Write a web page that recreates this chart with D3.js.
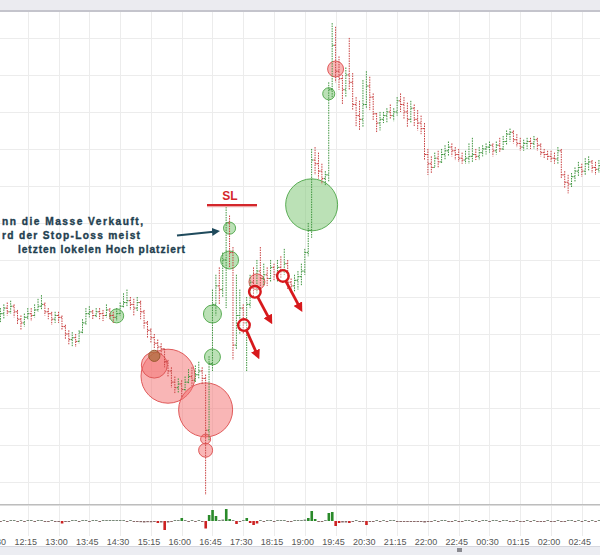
<!DOCTYPE html>
<html><head><meta charset="utf-8">
<script src="https://cdn.jsdelivr.net/npm/d3@7"></script>
<style>body{margin:0;background:#fff;} svg{display:block;}</style>
</head><body>
<svg id="c" width="600" height="555"></svg>
<script>
// ---- data (5-minute bars, arbitrary price units) ----
const closes = [54,55.5,57,56,57.5,56,54,53,54.5,55.5,55,56.5,57.5,58,56,55.5,54,55,54.5,
52,50,48.5,49,48,50.5,53,
55.5,56,55,56,55.5,55,56.5,55,54.5,55.5,57.5,58.5,
59,58,57,58.5,56,53,51,49,47.5,46.5,46,
42.5,40,37,35.5,36.5,35,37,38.5,37.5,39,40,38,
24,42,58,63,62,70,80,72,
47,55,57,53,58,64,63,67,65,66,65,68,66,68,67,69,64,63,64.5,65.5,
67,72,78,97,96,94,92,93,
116,128,121,119,116,120,118,112,109,108,112,117,114,109.5,107,108,109,110,109,110,113,112,
110,108,111,108,107,105.5,98.5,96,95,97.5,
96.5,98.5,99.5,100.5,99.5,98.5,97.5,97,97.5,98,98.5,98,99,100,100.5,101,99.5,101,100,102,
104,104.5,102.5,101.5,100.5,101.5,102,101.5,102.5,101,99,98.5,98,97.5,97.3,99.5,93,91,90.5,92.5,94,95,94,96,96.5,95,94.5,95.5];
const highs = [56,57,58,58.5,59,58,56.5,55,55.5,57,57,58,59.5,60.5,58.5,57,56,56,56,
55,52.5,51,50.5,50,51,54,
57,57.5,56.5,57,57,56.5,58,57,56,57,58.5,61,
62,60,59.5,60,59,56.5,53.5,51.5,50,48.5,47.5,
46,43,41,38.5,38,37.5,38.5,40.5,41,41.5,42.5,41,
39,44,62,66,68,72,85,82,
73.5,66,62,58,60,66,68,70,73.5,69,68,70,69,70,71,73,70,65,66,67,
69,73,80,100,100.5,99,96,94,
118,134,133,125,120,122,130,120.5,114,113,118.6,121,119.5,115,109.7,110,110,111,112,111,114,115,
114,112.5,113,112,110.5,109,107,100,98,99,
99.5,100,101,102,101.5,100.5,100,99,99.5,101.5,103,100,100.5,101,101.5,102,101.5,102,103,103.5,
105,105.5,105,104,103,102.5,103,103,103.5,103,101.5,100,99.5,99.5,99,100.5,100,94,93,93.5,95,96.5,96,97.5,98,97,96.5,97];
const lows = [47,53,54,55,55.5,54.5,52.5,51,52,54,53.5,54.5,56,56.5,55,54,52.5,53,53,
51,48.5,47,46.5,46.5,47.5,50,
52.5,54.5,54,54.5,54,53.5,54.5,54,53,53.5,55,57,
57.5,56.5,55,56,54,51.5,49,47.5,46,45,44.5,
41,38.5,35.5,34,34,33,34.5,36.5,36,37,38,36.5,
6.5,21,40,55,58,60,57,68,
43,46,50,50,40,57,60,61,62,63,63,64,64.5,64,65,66,62,61,61.5,62,
63,66,71,76,93,92,90.5,90,
91,114,118,116,112,114,116,110.5,106,105,106,111,110.5,107.8,104.3,105,107,107,108,107.5,109,110,
108,106,107,106,105,104,97,93,93.5,95,
95,96,97,98,98,97,96.5,96,96,96,96.5,97,97,98,98.5,99,98,98.5,99,99.5,
101,102,101.5,100.5,99.5,99.5,100,100,100,99.5,98,97.5,97,96.5,96,96,92,89.5,88,89.5,91,92.5,92.5,93,94,93.5,93,93.5];
const firstOpen = 54;
const deltaVolume = [-200,-80,40,-50,30,60,-40,50,-30,40,
30,-40,60,50,-60,-30,40,-50,-40,-250,
-80,-60,40,60,-50,70,40,-30,50,30,
-40,50,60,40,80,90,60,70,-60,50,
-50,-80,-120,-150,-120,-130,-100,-200,-150,-900,
-150,-100,80,60,300,100,-80,60,-60,50,
-100,-750,600,1100,500,100,150,1200,200,100,
-300,-100,80,300,-200,-400,-250,60,-50,40,
50,-40,30,60,40,-60,-40,50,100,100,
150,300,1000,200,-100,-100,60,800,900,-500,
-200,-150,-150,-200,-100,100,-80,-60,-400,-100,
-60,50,-50,40,-40,60,50,-30,-40,-100,
-60,-50,-60,-40,-80,-150,-80,-40,30,-30,
20,30,-20,-30,20,-20,-30,20,30,-20,
20,-20,30,20,-20,20,30,-20,40,30,
-20,-30,20,-40,-30,20,-30,20,-40,-30,
-40,20,-30,-20,30,-60,-50,30,20,-20,
30,-20,20,-30,20,-20,30];
const tickLabels = ["11:30","12:15","13:00","13:45","14:30","15:15","16:00","16:45","17:30","18:15",
"19:00","19:45","20:30","21:15","22:00","22:45","00:30","01:15","02:00","02:45"];
const barsPerTick = 9;
// volume-profile bubbles
const bubbleIndex = [35,46,63,63,68,68,92,97,46,50,61,61,61,76,99];
const bubblePrice = [54.9,44.1,43.8,55.4,78.6,70,84.9,114.9,41.6,38.6,29.5,21.6,18.6,64.1,121.6];
const bubbleSize  = [47,30,61,78,35,78,649,35,162,700,700,24,47,61,61];
const bubbleSide  = ["buy","mixed","buy","buy","buy","buy","buy","buy","sell","sell","sell","sell","sell","sell","sell"];
// stop-loss marks and arrows
const markIndex = [72.2,75.4,83.6];
const markPrice = [52.4,61.4,65.7];
const arrowIndex = [77,80.7,89.5];
const arrowPrice = [43,52.4,55.7];
const noteLines = [["We","nn die Masse Verkauft,"],["wi","rd der Stop-Loss meist"],["","letzten lokelen Hoch platziert"]];
const slLabel = "SL";

// ---- layout ----
const W = 600, H = 555;
const svg = d3.select("#c");
const x = d3.scaleLinear().domain([0, 176]).range([-3, -3 + 176 * 3.42]);
const y = d3.scaleLinear().domain([3.8, 137]).range([505, 12]);
const yv = d3.scaleLinear().domain([-1500, 1500]).range([536, 506]);
const rScale = d3.scaleSqrt().domain([0, 700]).range([0, 27]);
const opens = closes.map((c, i) => i ? closes[i - 1] : firstOpen);
const tickIdx = tickLabels.map((d, i) => i * barsPerTick);

// top bar
svg.append("rect").attr("x",0).attr("y",0).attr("width",W).attr("height",10).attr("fill","#ebebf0");
svg.append("rect").attr("x",0).attr("y",10).attr("width",W).attr("height",2).attr("fill","#c4c4cc");

// grid
const grid = svg.append("g");
grid.selectAll("line.h").data(d3.range(10, 131, 10)).join("line")
  .attr("x1",0).attr("x2",W).attr("y1",d=>Math.round(y(d))+0.5).attr("y2",d=>Math.round(y(d))+0.5)
  .attr("stroke","#ececec");
grid.selectAll("line.v").data(tickIdx).join("line")
  .attr("x1",d=>Math.round(x(d))+0.5).attr("x2",d=>Math.round(x(d))+0.5).attr("y1",12).attr("y2",536)
  .attr("stroke","#ececec");

// separator
svg.append("line").attr("x1",0).attr("x2",W).attr("y1",504.5).attr("y2",504.5).attr("stroke","#bdbdbd");
svg.append("line").attr("x1",0).attr("x2",W).attr("y1",505.5).attr("y2",505.5).attr("stroke","#dcdcdc");

svg.append("clipPath").attr("id","main").append("rect").attr("x",0).attr("y",12).attr("width",W).attr("height",492);
const main = svg.append("g").attr("clip-path","url(#main)");

const up = "#3f953f", dn = "#c84040";
const bars = d3.range(closes.length);
// bubbles (larger first)
const fillOf = {buy:"rgba(120,195,110,0.5)", sell:"rgba(243,110,110,0.5)", mixed:"rgba(170,105,55,0.7)"};
const strokeOf = {buy:"#5aad55", sell:"#e05a5a", mixed:"#9a5a30"};
const bub = bubbleIndex.map((d,i)=>({i:d,p:bubblePrice[i],s:bubbleSize[i],side:bubbleSide[i]}))
  .sort((a,b)=>b.s-a.s);
main.append("g").selectAll("circle").data(bub).join("circle")
  .attr("cx",d=>x(d.i)).attr("cy",d=>y(d.p)).attr("r",d=>rScale(d.s))
  .attr("fill",d=>fillOf[d.side]).attr("stroke",d=>strokeOf[d.side]).attr("stroke-width",1);

// OHLC bars
const g = main.append("g").attr("stroke-width",1);
g.selectAll("line.hl").data(bars).join("line")
  .attr("x1",i=>x(i)).attr("x2",i=>x(i)).attr("y1",i=>y(highs[i])).attr("y2",i=>y(lows[i]))
  .attr("stroke",i=>closes[i]>=opens[i]?up:dn).attr("stroke-dasharray","1.5,1");
g.selectAll("line.o").data(bars).join("line")
  .attr("x1",i=>x(i)-1.5).attr("x2",i=>x(i)).attr("y1",i=>y(opens[i])).attr("y2",i=>y(opens[i]))
  .attr("stroke",i=>closes[i]>=opens[i]?up:dn);
g.selectAll("line.c").data(bars).join("line")
  .attr("x1",i=>x(i)).attr("x2",i=>x(i)+1.5).attr("y1",i=>y(closes[i])).attr("y2",i=>y(closes[i]))
  .attr("stroke",i=>closes[i]>=opens[i]?up:dn);

// defs: arrowheads
const defs = svg.append("defs");
defs.append("marker").attr("id","ar").attr("viewBox","0 0 10 10").attr("refX",5).attr("refY",5)
  .attr("markerWidth",3.4).attr("markerHeight",3.4).attr("orient","auto").attr("markerUnits","strokeWidth")
  .append("path").attr("d","M0,0 L10,5 L0,10 z").attr("fill","#d7191c");
defs.append("marker").attr("id","ab").attr("viewBox","0 0 10 10").attr("refX",5).attr("refY",5)
  .attr("markerWidth",4).attr("markerHeight",4).attr("orient","auto").attr("markerUnits","strokeWidth")
  .append("path").attr("d","M0,0 L10,5 L0,10 z").attr("fill","#1f4a5c");

// stop-loss marks + arrows
const marks = markIndex.map((d,i)=>({x0:x(d),y0:y(markPrice[i]),x1:x(arrowIndex[i]),y1:y(arrowPrice[i])}));
const ann = svg.append("g");
ann.selectAll("line").data(marks).join("line")
  .attr("x1",d=>{const a=Math.atan2(d.y1-d.y0,d.x1-d.x0);return d.x0+6*Math.cos(a);})
  .attr("y1",d=>{const a=Math.atan2(d.y1-d.y0,d.x1-d.x0);return d.y0+6*Math.sin(a);})
  .attr("x2",d=>d.x1-3).attr("y2",d=>d.y1-5)
  .attr("stroke","#d7191c").attr("stroke-width",2.8).attr("marker-end","url(#ar)");
ann.selectAll("circle").data(marks).join("circle")
  .attr("cx",d=>d.x0).attr("cy",d=>d.y0).attr("r",5.8)
  .attr("fill","rgba(255,255,255,0.35)").attr("stroke","#d7191c").attr("stroke-width",2.4);

// text note
const note = svg.append("g").attr("font-family","'Liberation Sans',Arial,sans-serif")
  .attr("font-weight","bold").attr("font-size","10.2px").attr("fill","#1f3f50")
  .attr("stroke","#1f3f50").attr("stroke-width",0.35);
const noteY = [225, 239, 253], noteX = [2,2,18], noteEnd=[143,140,185];
noteLines.forEach((l,k)=>{
  note.append("text").attr("x",0).attr("y",noteY[k]).attr("text-anchor","end").text(l[0]);
  note.append("text").attr("x",noteX[k]).attr("y",noteY[k]).attr("textLength",noteEnd[k]-noteX[k])
    .attr("lengthAdjust","spacing").text(l[1]);
});
svg.append("line").attr("x1",177).attr("y1",235.5).attr("x2",216).attr("y2",231.5)
  .attr("stroke","#1f4a5c").attr("stroke-width",2).attr("marker-end","url(#ab)");

// SL label
svg.append("text").attr("x",230).attr("y",200).attr("text-anchor","middle")
  .attr("font-family","'Liberation Sans',Arial,sans-serif").attr("font-weight","bold").attr("font-size","12px")
  .attr("fill","#d4262b").text(slLabel);
svg.append("line").attr("x1",207).attr("x2",257).attr("y1",206.5).attr("y2",206.5).attr("stroke","#eaa").attr("stroke-width",1.5);
svg.append("line").attr("x1",207).attr("x2",257).attr("y1",205).attr("y2",205).attr("stroke","#d4262b").attr("stroke-width",2.2);

// volume delta
svg.append("g").selectAll("rect").data(bars).join("rect")
  .attr("x",i=>x(i)-1.2).attr("width",2.6)
  .attr("y",i=>deltaVolume[i]>=0?Math.min(yv(deltaVolume[i]),yv(0)-1):yv(0))
  .attr("height",i=>Math.max(1,Math.abs(yv(deltaVolume[i])-yv(0))))
  .attr("fill",i=>deltaVolume[i]>=0?(deltaVolume[i]>150?"#2a8a2a":"#7a8a7a"):(deltaVolume[i]<-150?"#cc2222":"#8a6a6a"));

// x axis
const ax = svg.append("g").attr("transform","translate(-2.5,536)")
  .call(d3.axisBottom(x).tickValues(tickIdx).tickFormat((d,i)=>tickLabels[i]).tickSize(0).tickPadding(3));
ax.select(".domain").remove();
ax.selectAll("text").attr("font-family","'Liberation Sans',Arial,sans-serif").attr("font-size","9px").attr("fill","#555");

// bottom bar
svg.append("rect").attr("x",0).attr("y",546).attr("width",W).attr("height",9).attr("fill","#ecedf2");
svg.append("line").attr("x1",0).attr("x2",W).attr("y1",546.5).attr("y2",546.5).attr("stroke","#d6d7de");
svg.append("rect").attr("x",457).attr("y",548).attr("width",5).attr("height",4).attr("fill","#8a8a90");
</script>
</body></html>
